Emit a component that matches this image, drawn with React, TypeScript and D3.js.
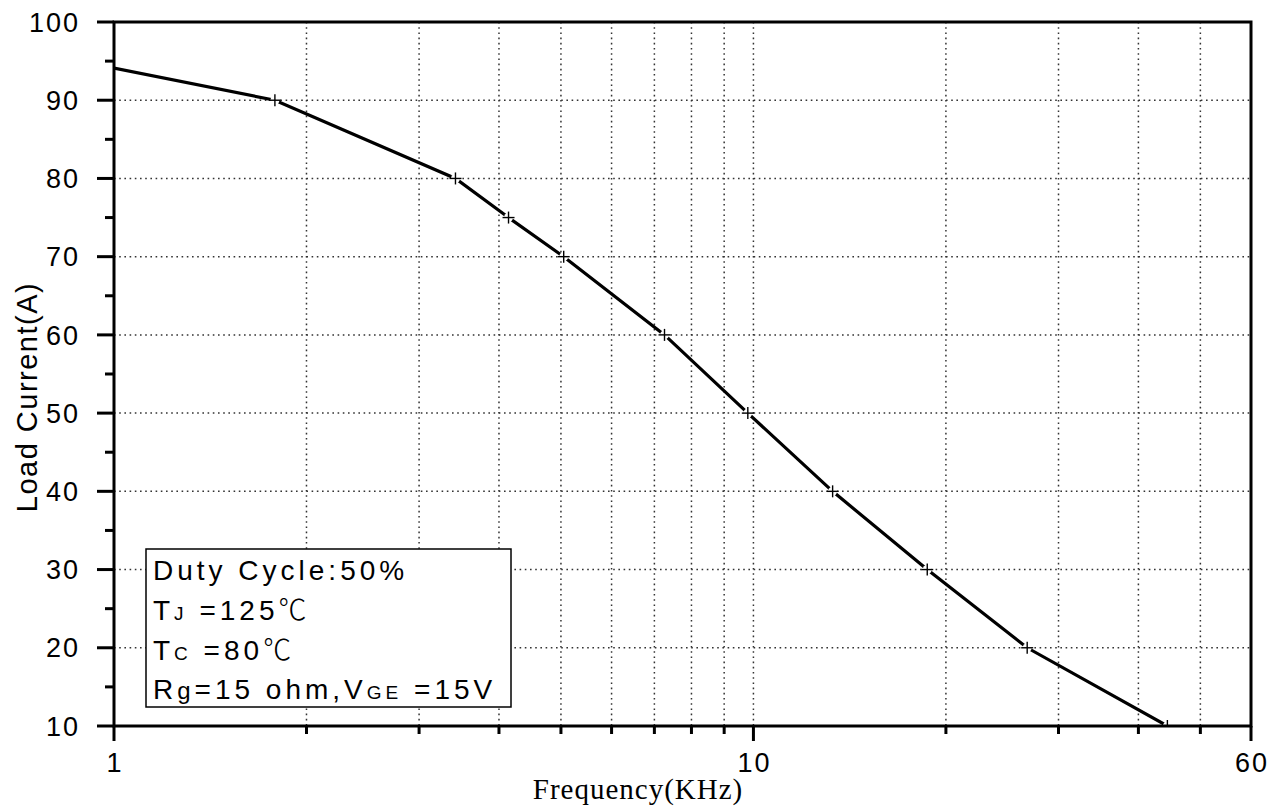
import React from "react"
import * as d3 from "d3"

// data
const freq = [1, 1.785, 3.42, 4.14, 5.05, 7.26, 9.8, 13.3, 18.7, 26.8, 44.4]
const current = [94.1, 90, 80, 75, 70, 60, 50, 40, 30, 20, 10]
const marked = [false, true, true, true, true, true, true, true, true, true, true]

const yMajor = [10, 20, 30, 40, 50, 60, 70, 80, 90, 100]
const yMinor = [15, 25, 35, 45, 55, 65, 75, 85, 95]
const xMajor = [1, 10, 60]
const xMajorLabels = ["1", "10", "60"]
const xMinor = [2, 3, 4, 5, 6, 7, 8, 9, 20, 30, 40, 50]
const xGrid = [2, 3, 4, 5, 6, 7, 8, 9, 10, 20, 30, 40, 50]
const yGrid = [20, 30, 40, 50, 60, 70, 80, 90]

const W = 1280
const H = 810
const left = 114
const right = 1251
const top = 22
const bottom = 726

const sans = "Liberation Sans, Arial, sans-serif"

const App: React.FC = () => {
	const x = d3.scaleLog().domain([1, 60]).range([left, right])
	const y = d3.scaleLinear().domain([10, 100]).range([bottom, top])

	const pts = freq.map((f, i) => ({ f, c: current[i], m: marked[i] }))
	const line = d3
		.line<{ f: number; c: number }>()
		.x((d) => x(d.f))
		.y((d) => y(d.c))

	const dash = "1.6,3.6"

	return (
		<svg
			width={W}
			height={H}
			style={{ position: "absolute", left: 0, top: 0, background: "#fff" }}
		>
			<defs>
				<clipPath id="plot">
					<rect x={left} y={top} width={right - left} height={bottom - top} />
				</clipPath>
			</defs>
			<rect x={0} y={0} width={W} height={H} fill="#fff" />

			{/* grid */}
			<g stroke="#333" strokeWidth={1.5} strokeDasharray={dash}>
				{xGrid.map((v) => (
					<line key={"gx" + v} x1={x(v)} x2={x(v)} y1={top} y2={bottom} />
				))}
				{yGrid.map((v) => (
					<line key={"gy" + v} x1={left} x2={right} y1={y(v)} y2={y(v)} />
				))}
			</g>

			{/* curve */}
			<g clipPath="url(#plot)">
				<path d={line(pts) || ""} fill="none" stroke="#000" strokeWidth={3.2} />
				{pts
					.filter((p) => p.m)
					.map((p, i) => (
						<g key={"m" + i} transform={`translate(${x(p.f)},${y(p.c)})`}>
							<circle r={4.5} fill="#fff" />
							<line x1={-6} x2={6} y1={0} y2={0} stroke="#000" strokeWidth={1.4} />
							<line x1={0} x2={0} y1={-6} y2={6} stroke="#000" strokeWidth={1.4} />
						</g>
					))}
			</g>

			{/* frame */}
			<rect
				x={left}
				y={top}
				width={right - left}
				height={bottom - top}
				fill="none"
				stroke="#000"
				strokeWidth={3}
			/>

			{/* ticks */}
			<g stroke="#000" strokeWidth={3}>
				{yMajor.map((v) => (
					<line key={"ty" + v} x1={left - 17} x2={left} y1={y(v)} y2={y(v)} />
				))}
				{yMinor.map((v) => (
					<line key={"tyn" + v} x1={left - 9} x2={left} y1={y(v)} y2={y(v)} />
				))}
				{xMajor.map((v) => (
					<line key={"tx" + v} x1={x(v)} x2={x(v)} y1={bottom} y2={bottom + 15} />
				))}
				{xMinor.map((v) => (
					<line key={"txn" + v} x1={x(v)} x2={x(v)} y1={bottom} y2={bottom + 8} />
				))}
			</g>

			{/* tick labels */}
			<g fontFamily={sans} fontSize={27} fill="#000">
				{yMajor.map((v) => (
					<text
						key={"ly" + v}
						x={80}
						y={y(v)}
						dy="0.36em"
						textAnchor="end"
						letterSpacing={2}
					>
						{v}
					</text>
				))}
				{xMajor.map((v, i) => (
					<text
						key={"lx" + v}
						x={x(v) + 1}
						y={772}
						textAnchor="middle"
						letterSpacing={2}
					>
						{xMajorLabels[i]}
					</text>
				))}
			</g>

			{/* axis titles */}
			<text
				transform={`translate(37,397) rotate(-90)`}
				textAnchor="middle"
				fontFamily={sans}
				fontSize={29}
				letterSpacing={1.5}
			>
				Load Current(A)
			</text>
			<text
				x={638}
				y={799}
				textAnchor="middle"
				fontFamily="Liberation Serif, Times New Roman, serif"
				fontSize={29}
				letterSpacing={1}
			>
				Frequency(KHz)
			</text>

			{/* legend */}
			<rect x={146} y={549} width={365} height={158} fill="#fff" stroke="#000" strokeWidth={1.5} />
			<g fontFamily={sans} fontSize={28} fill="#000" letterSpacing={4}>
				<text x={153} y={580}>Duty Cycle:50%</text>
				<text x={153} y={620}>
					T<tspan fontSize={19}>J</tspan> =125
					<tspan fontFamily="Noto Sans CJK SC" fontWeight={300}>℃</tspan>
				</text>
				<text x={153} y={660}>
					T<tspan fontSize={19}>C</tspan> =80
					<tspan fontFamily="Noto Sans CJK SC" fontWeight={300}>℃</tspan>
				</text>
				<text x={153} y={699}>
					R<tspan fontSize={24}>g</tspan>=15 ohm,V<tspan fontSize={19}>GE</tspan> =15V
				</text>
			</g>
		</svg>
	)
}

export default App
